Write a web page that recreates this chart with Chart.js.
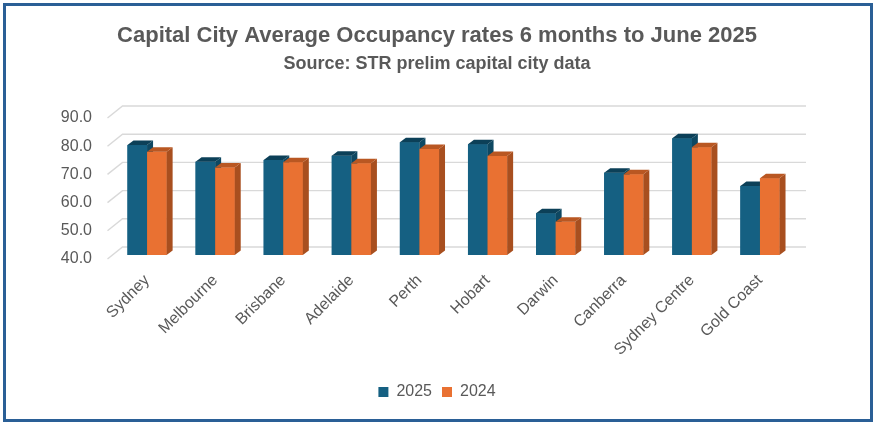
<!DOCTYPE html>
<html>
<head>
<meta charset="utf-8">
<script src="https://cdn.jsdelivr.net/npm/chart.js@4.4.1/dist/chart.umd.min.js"></script>
<style>
  html, body { margin: 0; padding: 0; background: #fff; }
  #wrap { position: relative; width: 874px; height: 427px; }
</style>
</head>
<body>
<div id="wrap"><canvas id="occupancy-chart"></canvas></div>
<script>
var cities = ['Sydney', 'Melbourne', 'Brisbane', 'Adelaide', 'Perth', 'Hobart', 'Darwin', 'Canberra', 'Sydney Centre', 'Gold Coast'];
var occ2025 = [79.0, 73.1, 73.7, 75.2, 80.0, 79.3, 54.8, 69.2, 81.4, 64.5];
var occ2024 = [76.6, 71.0, 72.9, 72.5, 77.6, 75.1, 51.8, 68.6, 78.2, 67.2];
var yTicks = [40, 50, 60, 70, 80, 90];

// back wall gridlines, drawn like the excel 3d chart
var wallGrid = {
    id: 'wallGrid',
    beforeDatasetsDraw: function(chart) {
        var ctx = chart.ctx, y = chart.scales.y, a = chart.chartArea;
        ctx.save();
        ctx.strokeStyle = '#d9d9d9';
        ctx.lineWidth = 1.4;
        y.ticks.forEach(function(t) {
            var py = y.getPixelForValue(t.value);
            ctx.beginPath();
            ctx.moveTo(a.left - 5.5, py + 4);
            ctx.lineTo(a.left + 9.5, py - 8);
            ctx.lineTo(a.right + 12, py - 8);
            ctx.stroke();
        });
        ctx.restore();
    }
};

// side and top faces of the columns
var columns3d = {
    id: 'columns3d',
    afterDatasetsDraw: function(chart) {
        var ctx = chart.ctx, dx = 6, dy = 4.5;
        var bottom = chart.chartArea.bottom;
        ctx.save();
        chart.data.datasets.forEach(function(ds, di) {
            var meta = chart.getDatasetMeta(di);
            meta.data.forEach(function(bar) {
                var p = bar.getProps(['x', 'y', 'base', 'width'], true);
                var l = p.x - p.width / 2, r = p.x + p.width / 2;
                var base = Math.min(p.base, bottom);
                ctx.fillStyle = ds.backgroundColor;
                ctx.fillRect(l, p.y, p.width, base - p.y);
                ctx.fillStyle = ds.sideColor;
                ctx.beginPath();
                ctx.moveTo(r, p.y);
                ctx.lineTo(r + dx, p.y - dy);
                ctx.lineTo(r + dx, base - dy);
                ctx.lineTo(r, base);
                ctx.closePath();
                ctx.fill();
                ctx.fillStyle = ds.topColor;
                ctx.beginPath();
                ctx.moveTo(l, p.y);
                ctx.lineTo(l + dx, p.y - dy);
                ctx.lineTo(r + dx, p.y - dy);
                ctx.lineTo(r, p.y);
                ctx.closePath();
                ctx.fill();
            });
        });
        ctx.restore();
    }
};

var frame = {
    id: 'frame',
    beforeDraw: function(chart) {
        var ctx = chart.ctx;
        ctx.save();
        ctx.fillStyle = '#fff';
        ctx.fillRect(0, 0, chart.width, chart.height);
        ctx.restore();
    },
    afterDraw: function(chart) {
        var ctx = chart.ctx;
        ctx.save();
        ctx.strokeStyle = '#2a5f96';
        ctx.lineWidth = 3;
        ctx.strokeRect(4.5, 4.5, 867, 416);
        ctx.restore();
    }
};

Chart.defaults.font.family = "'Liberation Sans', Arial, sans-serif";
Chart.defaults.color = '#595959';

new Chart(document.getElementById('occupancy-chart'), {
    type: 'bar',
    data: {
        labels: cities,
        datasets: [
            {
                label: '2025',
                data: occ2025,
                backgroundColor: '#156082',
                sideColor: '#0e4862',
                topColor: '#0c4058',
                categoryPercentage: 0.575,
                barPercentage: 1.0
            },
            {
                label: '2024',
                data: occ2024,
                backgroundColor: '#e97132',
                sideColor: '#a84f1f',
                topColor: '#b95722',
                categoryPercentage: 0.575,
                barPercentage: 1.0
            }
        ]
    },
    options: {
        responsive: true,
        maintainAspectRatio: false,
        animation: false,
        layout: { padding: { top: 0, left: 0, right: 0, bottom: 17 } },
        scales: {
            x: {
                grid: { display: false },
                border: { display: false },
                ticks: {
                    font: { size: 16 },
                    color: '#595959',
                    minRotation: 45,
                    maxRotation: 45,
                    padding: 8,
                    autoSkip: false
                },
                afterFit: function(scale) { scale.height = 119; }
            },
            y: {
                min: 40,
                max: 90,
                afterBuildTicks: function(scale) {
                    scale.ticks = yTicks.map(function(v) { return { value: v }; });
                },
                grid: { display: false, drawTicks: false },
                border: { display: false },
                ticks: {
                    font: { size: 16 },
                    color: '#595959',
                    padding: 21,
                    labelOffset: 4,
                    callback: function(v) { return Number(v).toFixed(1); }
                },
                afterFit: function(scale) { scale.width = 113; }
            },
            yRight: {
                position: 'right',
                grid: { display: false },
                border: { display: false },
                ticks: { display: false },
                afterFit: function(scale) { scale.width = 80; }
            }
        },
        plugins: {
            title: {
                display: true,
                text: 'Capital City Average Occupancy rates 6 months to June 2025',
                color: '#595959',
                font: { size: 22, weight: 'bold' },
                padding: { top: 23, bottom: 4 }
            },
            subtitle: {
                display: true,
                text: 'Source: STR prelim capital city data',
                color: '#595959',
                font: { size: 18, weight: 'bold' },
                padding: { top: 0, bottom: 39 }
            },
            legend: {
                position: 'bottom',
                labels: {
                    boxWidth: 10,
                    boxHeight: 10,
                    padding: 10,
                    color: '#595959',
                    font: { size: 16 }
                }
            },
            tooltip: { enabled: false }
        }
    },
    plugins: [frame, wallGrid, columns3d]
});
</script>
</body>
</html>
